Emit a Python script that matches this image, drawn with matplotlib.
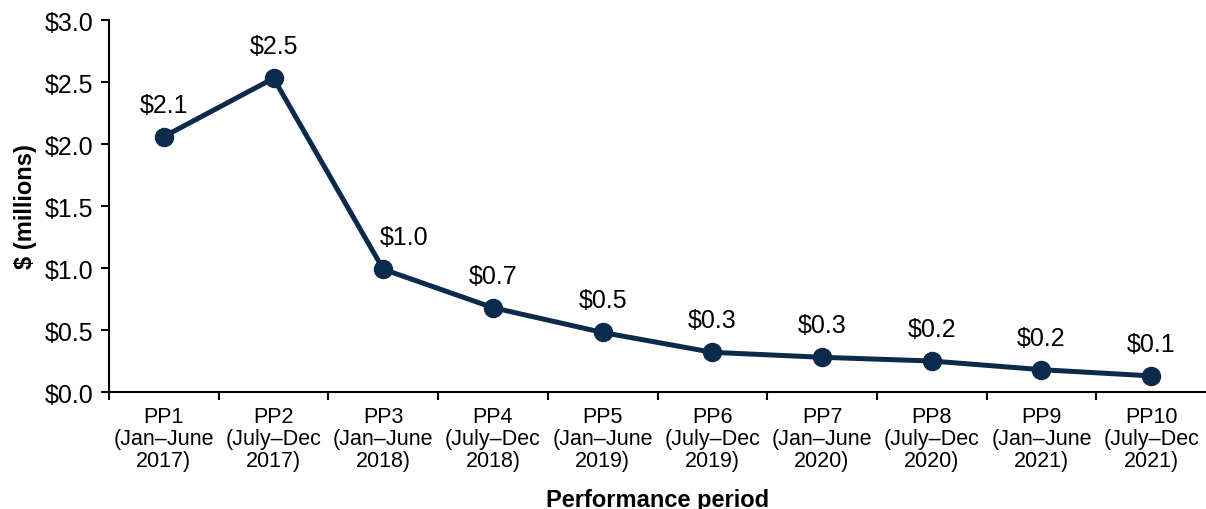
import numpy as np
import matplotlib.pyplot as plt
from matplotlib.ticker import FixedLocator

plt.rcParams['font.family'] = ['Liberation Sans', 'DejaVu Sans']

periods = ["PP1\n(Jan\u2013June\n2017)", "PP2\n(July\u2013Dec\n2017)",
           "PP3\n(Jan\u2013June\n2018)", "PP4\n(July\u2013Dec\n2018)",
           "PP5\n(Jan\u2013June\n2019)", "PP6\n(July\u2013Dec\n2019)",
           "PP7\n(Jan\u2013June\n2020)", "PP8\n(July\u2013Dec\n2020)",
           "PP9\n(Jan\u2013June\n2021)", "PP10\n(July\u2013Dec\n2021)"]
values = [2.06, 2.53, 0.99, 0.68, 0.48, 0.32, 0.28, 0.25, 0.18, 0.13]
labels = ["$2.1", "$2.5", "$1.0", "$0.7", "$0.5", "$0.3", "$0.3", "$0.2", "$0.2", "$0.1"]

color = "#0c2a4b"

fig = plt.figure(figsize=(12.06, 5.10), dpi=100)
ax = fig.add_axes([0.0904, 0.2294, 1.0 - 0.0904, 0.9588 - 0.2294])

x = np.arange(len(values))
ax.plot(x, values, color=color, lw=3.6, marker='o', ms=13, zorder=3)
for i, (v, lab) in enumerate(zip(values, labels)):
    dx = 15 if i == 2 else 0  # nudge the PP3 label off the line
    ax.annotate(lab, (i, v), xytext=(dx, 18), textcoords='offset points',
                ha='center', va='baseline', fontsize=18, color='black')

ax.set_xlim(-0.5, 9.5)
ax.set_ylim(0, 3.0)
ax.set_yticks(np.arange(0, 3.01, 0.5))
ax.set_yticklabels([f"${t:.1f}" for t in np.arange(0, 3.01, 0.5)])
ax.set_xticks(x)
ax.set_xticklabels(periods, fontsize=15.5, linespacing=1.07)
ax.xaxis.set_minor_locator(FixedLocator(np.arange(-0.5, 9.5, 1.0)))
ax.tick_params(axis='x', which='major', length=0, pad=10)
ax.tick_params(axis='x', which='minor', length=6, width=1.5, direction='out')
ax.tick_params(axis='y', length=6, width=1.5, labelsize=18, pad=5)

for s in ['top', 'right']:
    ax.spines[s].set_visible(False)
for s in ['left', 'bottom']:
    ax.spines[s].set_linewidth(1.5)

ax.set_ylabel("$ (millions)", fontsize=17, fontweight='bold')
ax.yaxis.set_label_coords(-0.066, 0.5)
ax.set_xlabel("Performance period", fontsize=17, fontweight='bold')
ax.xaxis.set_label_coords(0.5, -0.258)

fig.savefig("out.png", dpi=100)
